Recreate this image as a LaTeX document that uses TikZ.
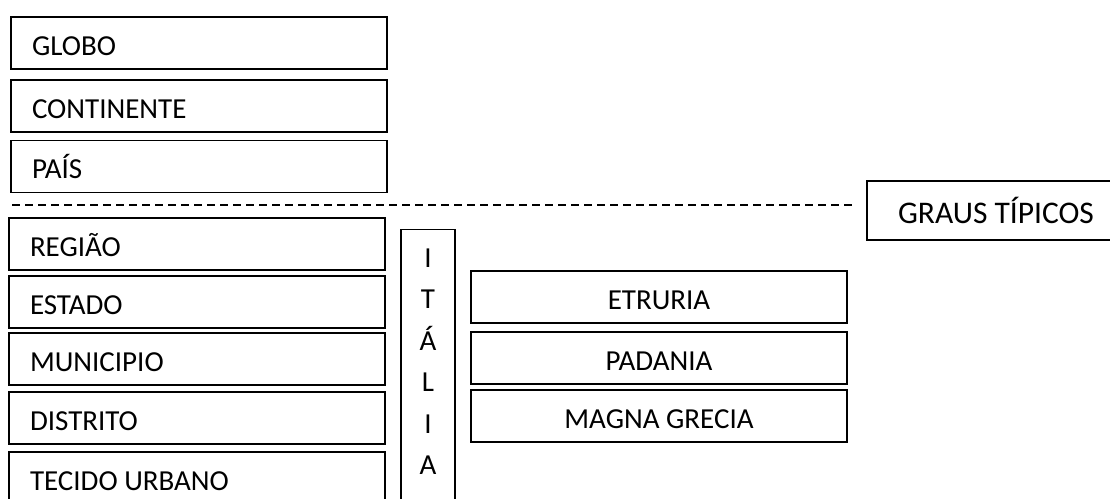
\documentclass[tikz,border=0pt]{standalone}
\usepackage{fontspec}
\setmainfont{Carlito}
\tikzset{
	levelbox/.style={draw,line width=1.2pt,minimum width=376pt,minimum height=52pt,text width=334pt,inner xsep=21pt,inner ysep=0pt,align=flush left,text height=24.5pt,text depth=0pt,font=\fontsize{29}{35}\selectfont},
	regionbox/.style={draw,line width=1.2pt,minimum width=376pt,minimum height=52pt,inner ysep=0pt,align=center,text height=24.5pt,text depth=0pt,font=\fontsize{29}{35}\selectfont},
}
\begin{document}
\begin{tikzpicture}[x=1pt,y=-1pt]
			\useasboundingbox (0,0) rectangle (1110,498);
			\clip (0,0) rectangle (1110,498);
			\node[levelbox] (globo) at (199,43) {GLOBO};
			\node[levelbox] (continente) at (199,106) {CONTINENTE};
			\node[levelbox] (pais) at (199,166.5) {PAÍS};
			\node[levelbox] (regiao) at (197,244) {REGIÃO};
			\node[levelbox] (estado) at (197,302) {ESTADO};
			\node[levelbox] (municipio) at (197,359) {MUNICIPIO};
			\node[levelbox] (distrito) at (197,418) {DISTRITO};
			\node[levelbox] (tecido) at (197,478) {TECIDO URBANO};
			\node[draw,line width=1.2pt,minimum width=54pt,minimum height=290pt,anchor=north] (italia) at (428,229) {};
			\node[align=center,inner sep=0pt,font=\fontsize{29}{41.5}\selectfont] (italiatxt) at (428,361.5) {I\\T\\Á\\L\\I\\A};
			\node[regionbox] (etruria) at (659,297) {ETRURIA};
			\node[regionbox] (padania) at (659,358) {PADANIA};
			\node[regionbox] (magna) at (659,416) {MAGNA GRECIA};
			\node[draw,line width=1.2pt,minimum width=258pt,minimum height=59pt,inner ysep=0pt,text height=25.3pt,text depth=0pt,font=\fontsize{31.5}{38}\selectfont] (graus) at (996,210.5) {GRAUS TÍPICOS};
			\coordinate (dashL) at (12,205);
			\coordinate (dashR) at (855,205);
			\draw[line width=1.2pt,dash pattern=on 8pt off 5pt] (dashL) -- (dashR);
		\end{tikzpicture}
\end{document}
